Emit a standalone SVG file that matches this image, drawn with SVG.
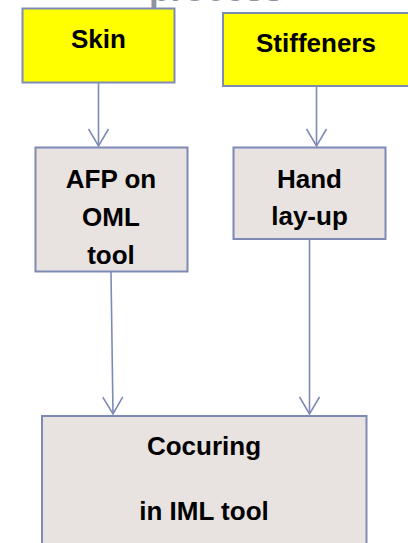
<svg xmlns="http://www.w3.org/2000/svg" width="408" height="543" viewBox="0 0 408 543">
<defs>
<style>
.box{stroke:#7E8AB6;stroke-width:2}
.y{fill:#FFFF00}
.g{fill:#E8E3E1}
.t{font-family:"Liberation Sans",Arial,sans-serif;font-weight:bold;font-size:26px;fill:#000;text-anchor:middle}
.c{stroke:#7E8AB6;stroke-width:1.6;fill:none}
</style>
<marker id="ah" markerWidth="20" markerHeight="22" refX="18" refY="11" viewBox="0 0 20 22" markerUnits="userSpaceOnUse" orient="auto">
<path d="M1,1 L18,11 L1,21" fill="none" stroke="#7E8AB6" stroke-width="1.6"/>
</marker>
</defs>
<rect width="408" height="543" fill="#fff"/>
<text x="149" y="0.5" font-family="'Liberation Sans',Arial,sans-serif" font-weight="bold" font-size="35" fill="#8E93A3">process</text>
<g id="connectors">
<line class="c" x1="98.5" y1="83" x2="98.5" y2="146" marker-end="url(#ah)"/>
<line class="c" x1="316.5" y1="87" x2="316.5" y2="146" marker-end="url(#ah)"/>
<line class="c" x1="111" y1="272" x2="113" y2="414" marker-end="url(#ah)"/>
<line class="c" x1="309.5" y1="240" x2="309.5" y2="414" marker-end="url(#ah)"/>
</g>
<g id="skin">
<rect class="box y" x="22.5" y="8.5" width="152" height="74"/>
<text class="t" x="98.5" y="48">Skin</text>
</g>
<g id="stiffeners">
<rect class="box y" x="223" y="13" width="200" height="73"/>
<text class="t" x="316" y="52">Stiffeners</text>
</g>
<g id="afp">
<rect class="box g" x="35.5" y="147.5" width="152" height="124"/>
<text class="t" x="111" y="188">AFP on</text>
<text class="t" x="111" y="226">OML</text>
<text class="t" x="111" y="264">tool</text>
</g>
<g id="hand">
<rect class="box g" x="233.5" y="147.5" width="152" height="91.5"/>
<text class="t" x="309.5" y="188">Hand</text>
<text class="t" x="309.5" y="225">lay-up</text>
</g>
<g id="cocuring">
<rect class="box g" x="42" y="416" width="324.5" height="140"/>
<text class="t" x="204" y="455">Cocuring</text>
<text class="t" x="204" y="520">in IML tool</text>
</g>
</svg>
